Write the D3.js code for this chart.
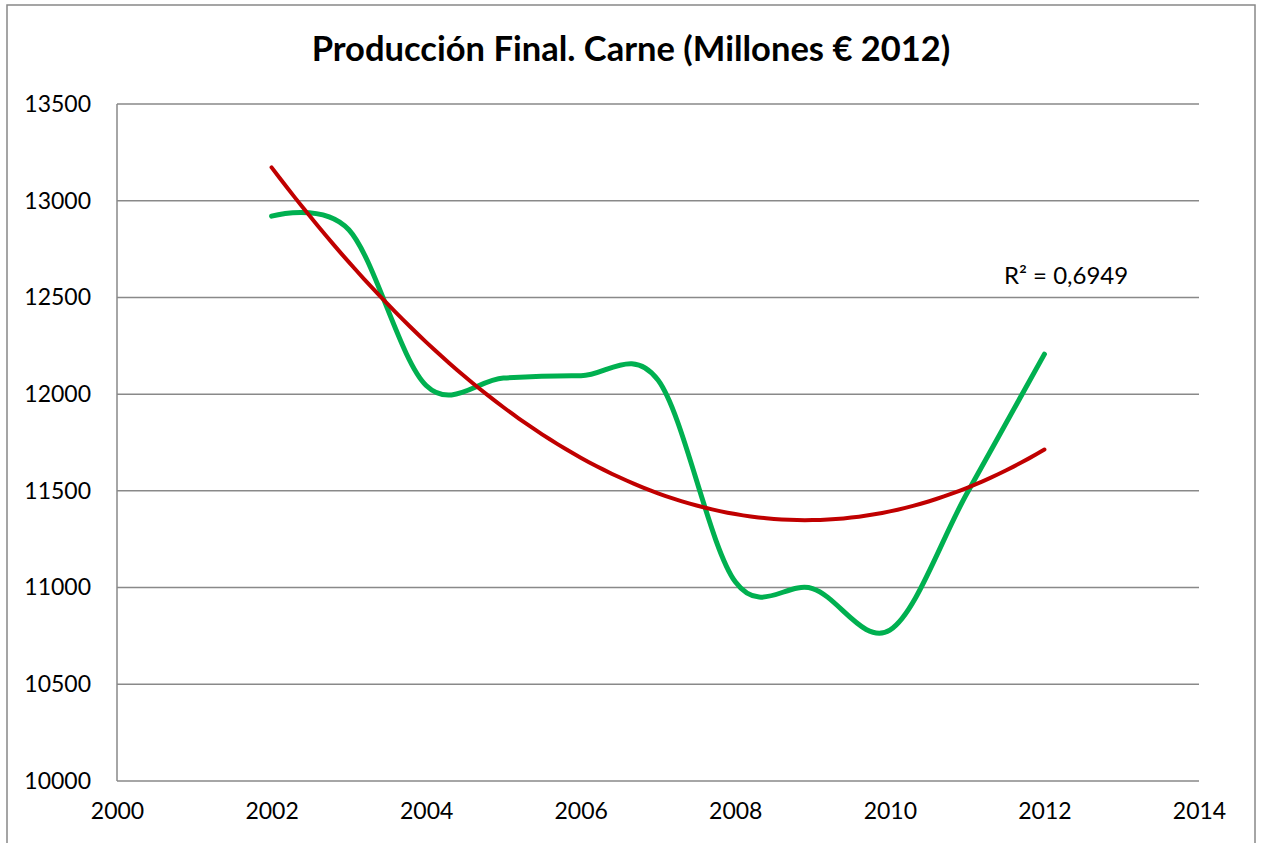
<!DOCTYPE html>
<html>
<head>
<meta charset="utf-8">
<script src="https://cdn.jsdelivr.net/npm/d3@7"></script>
<style>
  body { margin: 0; background: #fff; }
  text { font-family: Lato, 'Open Sans', sans-serif; fill: #000; }
</style>
</head>
<body>
<div id="chart"></div>
<script>
const years = [2002, 2003, 2004, 2005, 2006, 2007, 2008, 2009, 2010, 2011, 2012]
const carne = [12920, 12850, 12045, 12083, 12095, 12073, 11030, 10995, 10780, 11489, 12207]
const xTicks = [2000, 2002, 2004, 2006, 2008, 2010, 2012, 2014]
const yTicks = [10000, 10500, 11000, 11500, 12000, 12500, 13000, 13500]
const titleText = 'Producción Final. Carne (Millones € 2012)'
const r2Text = 'R² = 0,6949'

const W = 1264
const H = 843
const margin = { top: 104, left: 117, right: 65, bottom: 62 }
const width = W - margin.left - margin.right
const height = H - margin.top - margin.bottom

const frame = d3
  .select('#chart')
  .append('svg')
  .attr('width', W)
  .attr('height', H)

// outer chart border
frame
  .append('rect')
  .attr('x', 7)
  .attr('y', 5)
  .attr('width', 1248)
  .attr('height', 860)
  .attr('fill', '#fff')
  .attr('stroke', '#888')
  .attr('stroke-width', 1.5)

const title = frame
  .append('text')
  .attr('x', 631)
  .attr('y', 61)
  .attr('text-anchor', 'middle')
  .attr('font-weight', 'bold')
  .attr('font-size', 32)
  .text(titleText)
// fit title to the width in the picture
const tw = title.node().getComputedTextLength()
title.attr('font-size', 32 * 639 / tw)

const svg = frame
  .append('g')
  .attr('transform', 'translate(' + margin.left + ',' + margin.top + ')')

const xPositionScale = d3
  .scaleLinear()
  .domain([2000, 2014])
  .range([0, width])

const yPositionScale = d3
  .scaleLinear()
  .domain([10000, 13500])
  .range([height, 0])

// gridlines
svg
  .selectAll('.grid')
  .data(yTicks)
  .enter()
  .append('line')
  .attr('class', 'grid')
  .attr('x1', 0)
  .attr('x2', width)
  .attr('y1', d => yPositionScale(d))
  .attr('y2', d => yPositionScale(d))
  .attr('stroke', '#898989')
  .attr('stroke-width', 1.5)

svg
  .append('line')
  .attr('x1', 0)
  .attr('x2', 0)
  .attr('y1', 0)
  .attr('y2', height)
  .attr('stroke', '#898989')
  .attr('stroke-width', 1.5)

const yAxis = d3
  .axisLeft(yPositionScale)
  .tickValues(yTicks)
  .tickSize(0)
  .tickPadding(26)
  .tickFormat(d3.format('d'))
svg
  .append('g')
  .attr('class', 'y-axis')
  .call(yAxis)
  .call(g => g.select('.domain').remove())
  .selectAll('text')
  .attr('font-size', 23)
  .attr('font-family', 'Lato, sans-serif')

const xAxis = d3
  .axisBottom(xPositionScale)
  .tickValues(xTicks)
  .tickSize(0)
  .tickPadding(22)
  .tickFormat(d3.format('d'))
svg
  .append('g')
  .attr('class', 'x-axis')
  .attr('transform', 'translate(0,' + height + ')')
  .call(xAxis)
  .call(g => g.select('.domain').remove())
  .selectAll('text')
  .attr('font-size', 23)
  .attr('font-family', 'Lato, sans-serif')

const datapoints = years.map((y, i) => ({ year: y, value: carne[i] }))

// smoothed series line (Excel-style smoothing ~ uniform catmull-rom)
const line = d3
  .line()
  .x(d => xPositionScale(d.year))
  .y(d => yPositionScale(d.value))
  .curve(d3.curveCardinal.tension(0))

svg
  .append('path')
  .datum(datapoints)
  .attr('d', line)
  .attr('fill', 'none')
  .attr('stroke', '#00B050')
  .attr('stroke-width', 5)
  .attr('stroke-linecap', 'round')

// 2nd order polynomial trendline, least squares
function polyFit(xs, ys) {
  const m = d3.mean(xs)
  const t = xs.map(x => x - m)
  const n = t.length
  const s1 = d3.sum(t)
  const s2 = d3.sum(t, v => v * v)
  const s3 = d3.sum(t, v => v * v * v)
  const s4 = d3.sum(t, v => v * v * v * v)
  const sy = d3.sum(ys)
  const sty = d3.sum(t, (v, i) => v * ys[i])
  const st2y = d3.sum(t, (v, i) => v * v * ys[i])
  // solve 3x3 by cramer
  const A = [[n, s1, s2], [s1, s2, s3], [s2, s3, s4]]
  const B = [sy, sty, st2y]
  const det = M =>
    M[0][0] * (M[1][1] * M[2][2] - M[1][2] * M[2][1]) -
    M[0][1] * (M[1][0] * M[2][2] - M[1][2] * M[2][0]) +
    M[0][2] * (M[1][0] * M[2][1] - M[1][1] * M[2][0])
  const D = det(A)
  const coef = [0, 1, 2].map(k =>
    det(A.map((row, r) => row.map((v, c) => (c === k ? B[r] : v)))) / D
  )
  return x => coef[0] + coef[1] * (x - m) + coef[2] * (x - m) * (x - m)
}

const trend = polyFit(years, carne)
const trendPoints = d3
  .range(0, 101)
  .map(i => d3.min(years) + (i / 100) * (d3.max(years) - d3.min(years)))
  .map(x => ({ year: x, value: trend(x) }))

svg
  .append('path')
  .datum(trendPoints)
  .attr('d', d3.line().x(d => xPositionScale(d.year)).y(d => yPositionScale(d.value)))
  .attr('fill', 'none')
  .attr('stroke', '#C00000')
  .attr('stroke-width', 4)
  .attr('stroke-linecap', 'round')

svg
  .append('text')
  .attr('x', xPositionScale(2012.28))
  .attr('y', yPositionScale(12500) - 13)
  .attr('text-anchor', 'middle')
  .attr('font-size', 24)
  .text(r2Text)
</script>
</body>
</html>
